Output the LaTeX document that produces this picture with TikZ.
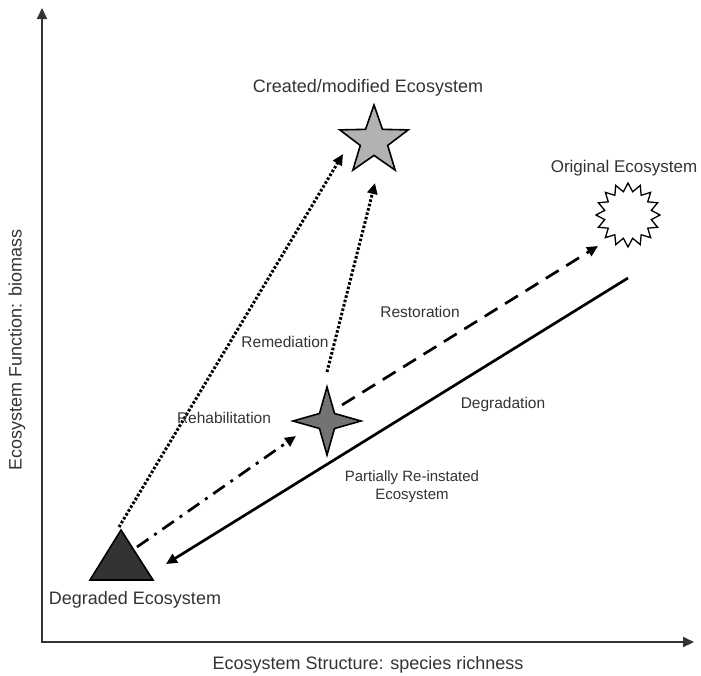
\documentclass[tikz,border=0pt]{standalone}
\usepackage{fontspec}
\setmainfont{Liberation Sans}
\usetikzlibrary{arrows.meta,shapes.geometric}
\begin{document}
\begin{tikzpicture}[x=1pt,y=-1pt,
  txt/.style={text=black!80, font=\fontsize{18}{21}\selectfont, inner sep=0},
  small/.style={text=black!80, font=\fontsize{15.5}{18}\selectfont, inner sep=0},
  axis/.style={line width=2pt, draw=black!80, -{Triangle[length=11pt,width=10pt]}},
  conn/.style={line width=2.7pt, -{Triangle[length=11pt,width=10pt]}},
  dotline/.style={conn, line width=3pt, dash pattern=on 2.6pt off 1.9pt},
  dashline/.style={conn, dash pattern=on 15pt off 9pt},
  dashdotline/.style={conn, dash pattern=on 14pt off 7pt on 3pt off 7pt},
  shp/.style={draw=black, line width=1.6pt, inner sep=0}]
\useasboundingbox (0,0) rectangle (701,675);
% axes
\coordinate (origin) at (42,642);
\coordinate (ytip) at (42,8);
\coordinate (xtip) at (694,642);
\draw[axis] ([yshift=1pt]origin) -- (ytip);
\draw[axis] ([xshift=-1pt]origin) -- (xtip);
\node[txt, rotate=90] (ylab) at (17,350) {Ecosystem Function: biomass};
\node[txt] (xlab) at (368,665) {Ecosystem Structure: species richness};
% shapes
\coordinate (degapex) at (121,530);
\coordinate (degl) at (90,580);
\coordinate (degr) at (153,580);
\draw[shp, fill=black!80, line join=miter] (degapex) -- (degr) -- (degl) -- cycle;
\node[txt] (deglab) at (135,600) {Degraded Ecosystem};
\node[shp, star, star points=4, star point ratio=3.2, minimum size=68pt, fill=black!55] (partial) at (327,421) {};
\node[small, align=center, font=\fontsize{15}{18}\selectfont] (partlab) at (412,487) {Partially Re-instated\\Ecosystem};
\node[shp, star, star points=5, star point ratio=2.5, minimum size=72pt, fill=black!30] (created) at (374,141) {};
\node[txt] (createdlab) at (368,88) {Created/modified Ecosystem};
\node[shp, star, star points=16, star point ratio=1.35, minimum size=64pt, fill=white, line width=1.3pt] (orig) at (628,215) {};
\node[txt, font=\fontsize{17}{20}\selectfont] (origlab) at (624,168) {Original Ecosystem};
% connectors
\coordinate (c1s) at (119,527);
\coordinate (c1e) at (343,154);
\coordinate (c2s) at (327,372);
\coordinate (c2e) at (375,183);
\coordinate (c3s) at (137,547);
\coordinate (c3e) at (296,436);
\coordinate (c4s) at (342,405);
\coordinate (c4e) at (598,246);
\coordinate (c5s) at (628,278);
\coordinate (c5e) at (166,564);
\draw[dotline] (c1s) -- (c1e);
\draw[dotline] (c2s) -- (c2e);
\draw[dashdotline] (c3s) -- (c3e);
\draw[dashline] (c4s) -- (c4e);
\draw[conn] (c5s) -- (c5e);
% labels
\node[small] (rehab) at (224,418) {Rehabilitation};
\node[small] (remed) at (285,342) {Remediation};
\node[small] (resto) at (420,312) {Restoration};
\node[small] (degra) at (503,404) {Degradation};
\end{tikzpicture}
\end{document}
